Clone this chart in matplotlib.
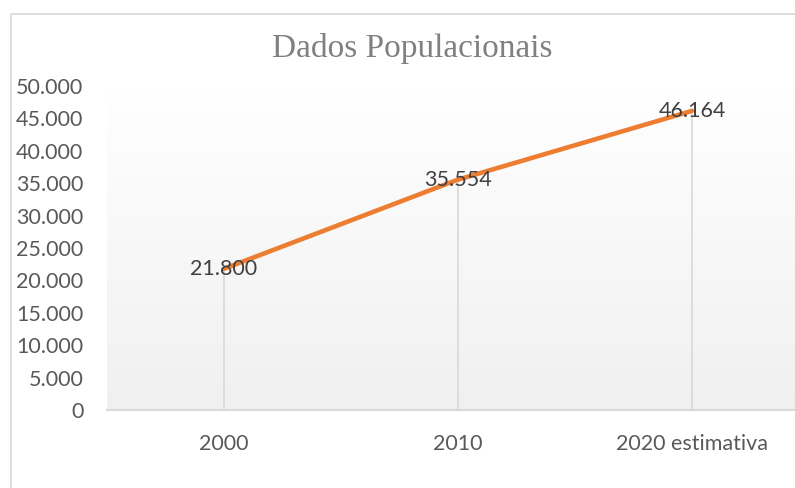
import matplotlib
matplotlib.use("Agg")
import matplotlib.pyplot as plt
import numpy as np
from matplotlib.patches import Rectangle
from matplotlib.ticker import FuncFormatter
from matplotlib.colors import LinearSegmentedColormap
from matplotlib.font_manager import FontProperties

categories = ["2000", "2010", "2020 estimativa"]
values = [21800, 35554, 46164]
yticks = [0, 5000, 10000, 15000, 20000, 25000, 30000, 35000, 40000, 45000, 50000]
title = "Dados Populacionais"

plt.rcParams["font.family"] = ["Lato", "DejaVu Sans"]
W, H = 795, 488
fig = plt.figure(figsize=(W / 100, H / 100), dpi=100)
fig.patch.set_facecolor("white")

# chart border (extends past right/bottom edges)
fig.patches.append(Rectangle((11 / W, -0.1), 1.2, 1 - 14 / H + 0.1, transform=fig.transFigure,
                             fill=False, edgecolor="#d9d9d9", linewidth=1.2, zorder=0))

# axes: x from 107 to 809 px, y from 86 (top) to 410 (bottom)
left, right, top, bottom = 107, 809, 86, 410
ax = fig.add_axes([left / W, 1 - bottom / H, (right - left) / W, (bottom - top) / H])
ax.set_facecolor("none")

x = np.arange(len(categories))
ax.set_xlim(-0.5, len(categories) - 0.5)
ax.set_ylim(0, 50000)

# gradient background
grad = np.linspace(0, 1, 256).reshape(-1, 1)
cmap = LinearSegmentedColormap.from_list("g", ["#f0f0f0", "#ffffff"])
ax.imshow(grad, extent=[0, 1, 0, 1], transform=ax.transAxes, cmap=cmap,
          aspect="auto", origin="lower", zorder=0)

# drop lines
ax.vlines(x, 0, values, colors="#d9d9d9", linewidth=1.2, zorder=1)

ax.plot(x, values, color="#ED7D31", linewidth=3.3, solid_capstyle="round", zorder=2)

fmt = lambda v: f"{int(v):,}".replace(",", ".")
for xi, v in zip(x, values):
    ax.text(xi, v, fmt(v), ha="center", va="center", fontsize=15.5,
            color="#404040", zorder=3)

for s in ["top", "right", "left"]:
    ax.spines[s].set_visible(False)
ax.spines["bottom"].set_color("#d9d9d9")
ax.spines["bottom"].set_linewidth(1.5)

ax.set_xticks(x)
ax.set_xticklabels(categories)
ax.set_yticks(yticks)
ax.yaxis.set_major_formatter(FuncFormatter(lambda v, p: fmt(v)))
ax.tick_params(axis="both", length=0, labelsize=15.5, labelcolor="#595959")
ax.tick_params(axis="y", pad=17)
ax.tick_params(axis="x", pad=17)

serif = FontProperties(family="Liberation Serif", size=24)
fig.text(412 / W, 1 - 48 / H, title, ha="center", va="center",
         fontproperties=serif, color="#808080")

fig.savefig("out.png", dpi=100)
